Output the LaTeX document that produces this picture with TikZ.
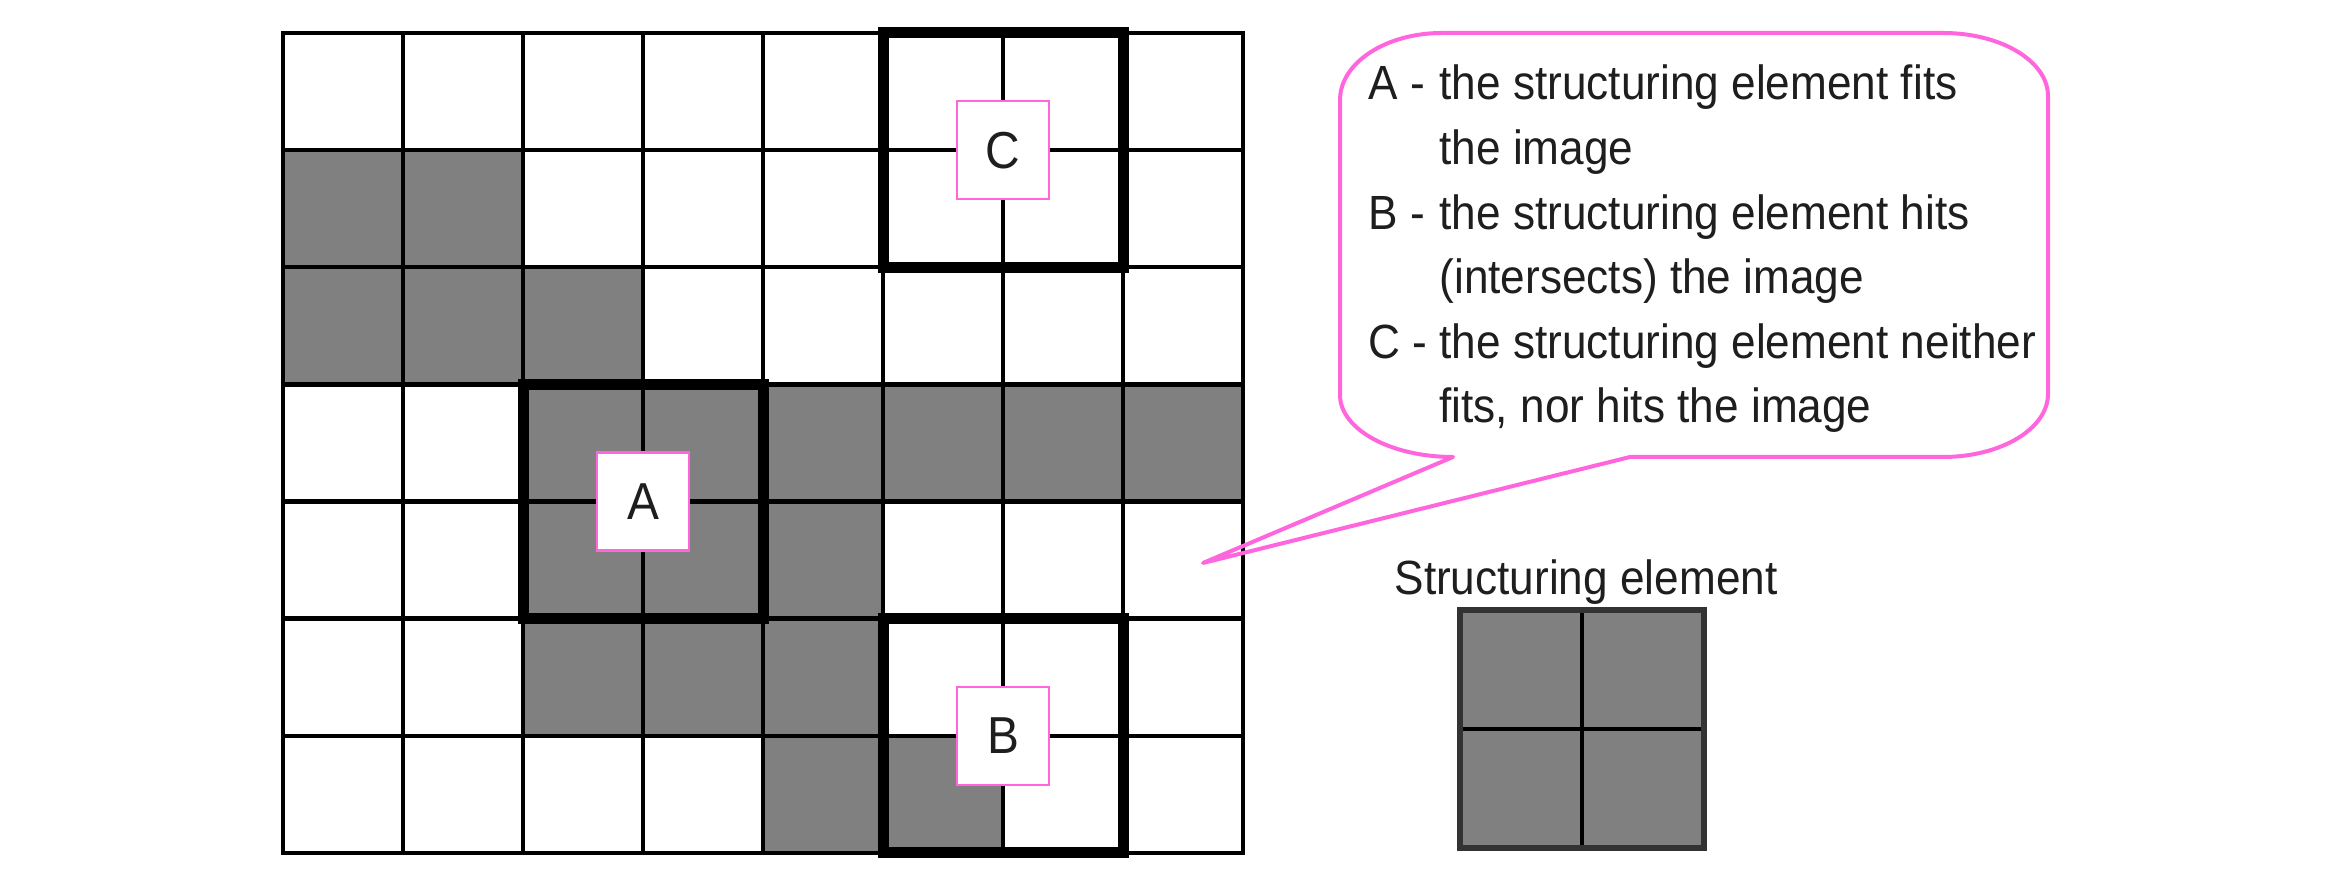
\documentclass[tikz,border=0pt]{standalone}
\usepackage{fontspec}
\setmainfont{Liberation Sans}
\usepackage{graphicx}
\definecolor{cellgray}{RGB}{128,128,128}
\definecolor{pinkline}{RGB}{255,102,221}
\definecolor{txtcol}{RGB}{30,30,30}
\begin{document}
\begin{tikzpicture}[x=0.5pt,y=0.5pt,
  thingrid/.style={line width=2.2pt, black},
  thickbox/.style={line width=5.5pt, black},
  lbl/.style={draw=pinkline, line width=1.2pt, fill=white, minimum width=46pt,
    minimum height=49pt, inner sep=0pt, font=\fontsize{26}{30}\selectfont, text=txtcol},
  legendtext/.style={anchor=base west, inner sep=0pt, text=txtcol, font=\fontsize{24}{32.3}\selectfont},
  setext/.style={anchor=base, inner sep=0pt, text=txtcol, font=\fontsize{24}{29}\selectfont},
  calloutline/.style={draw=pinkline, line width=2pt, line join=round}
]
\useasboundingbox (0,0) rectangle (2330,886);
\fill[white] (0,0) rectangle (2330,886);

% gray cells (column / row from top)
\foreach \c/\r in {0/1,1/1,0/2,1/2,2/2,2/3,3/3,4/3,5/3,6/3,7/3,2/4,3/4,4/4,2/5,3/5,4/5,4/6,5/6}
  \fill[cellgray] ({283+120*\c},{853-117.14*\r}) rectangle ++(120,-117.14);

% grid
\foreach \i in {1,...,7} \draw[thingrid] ({283+120*\i},33) -- ({283+120*\i},853);
\foreach \j in {1,...,6} \draw[thingrid] (283,{853-117.14*\j}) -- (1243,{853-117.14*\j});
\draw[thingrid] (283,33) rectangle (1243,853);

% thick structuring element positions
\draw[thickbox] (883,853) rectangle (1123,618.72);
\draw[thickbox] (523,501.58) rectangle (763,267.3);
\draw[thickbox] (883,267.3) rectangle (1123,33);

% labels
\node[lbl] (lblC) at (1003,735.86) {\scalebox{0.92}[1]{C}};
\node[lbl] (lblA) at (643,384.44) {\scalebox{0.92}[1]{A}};
\node[lbl] (lblB) at (1003,150.14) {\scalebox{0.92}[1]{B}};

% callout
\coordinate (tip) at (1203,323);
\draw[calloutline] (1442,853) -- (1943,853)
  arc[start angle=90,end angle=0,x radius=105,y radius=63] -- (2048,492)
  arc[start angle=0,end angle=-90,x radius=105,y radius=63] -- (1630,429)
  -- (tip) -- (1453,429)
  arc[start angle=270,end angle=180,x radius=113,y radius=62] -- (1340,786)
  arc[start angle=180,end angle=90,x radius=102,y radius=67] -- cycle;

\node[legendtext] (legend) at (1368,786) {\scalebox{0.92}[1]{\begin{tabular}[t]{@{}l@{\ }l@{}}
A -& the structuring element fits\\
 & the image\\
B -& the structuring element hits\\
 & (intersects) the image\\
C -& the structuring element neither\\
 & fits, nor hits the image
\end{tabular}}};

% structuring element
\node[setext] (selabel) at (1586,291) {\scalebox{0.92}[1]{Structuring element}};
\fill[cellgray] (1460,38) rectangle (1704,276);
\draw[line width=2.4pt] (1582,38) -- (1582,276);
\draw[line width=2.4pt] (1460,157) -- (1704,157);
\draw[line width=3.3pt, black!80] (1460,38) rectangle (1704,276);
\end{tikzpicture}
\end{document}
